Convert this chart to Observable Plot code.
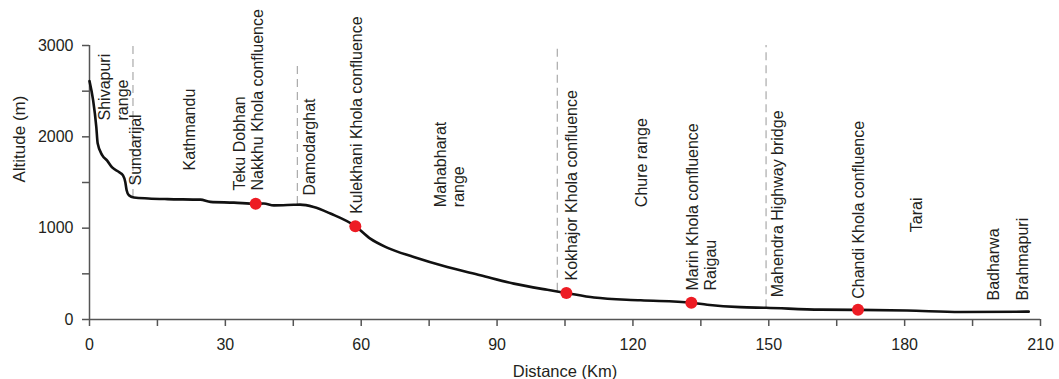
<!DOCTYPE html>
<html>
<head>
<meta charset="utf-8">
<script src="https://cdn.jsdelivr.net/npm/d3@7"></script>
<script src="https://cdn.jsdelivr.net/npm/@observablehq/plot@0.6"></script>
<style>
  html, body { margin: 0; padding: 0; background: #fff; }
  #chart svg { display: block; }
</style>
</head>
<body>
<div id="chart"></div>
<script>
// River longitudinal profile (distance in km, altitude in m)
const profileKm  = [0, 0.8, 1.5, 1.8, 2.8, 3.9, 5.0, 6.5, 7.4, 7.9, 8.2, 8.7, 9.8, 13, 17.2, 24.5, 26.7, 31.9, 36.7, 38.5, 40.7, 45.1, 46.5, 49.5, 53.2, 58.7, 62.0, 65.7, 71.6, 79.0, 86.3, 93.7, 101.1, 105.3, 111.4, 121.7, 132.9, 136.4, 143.7, 149.4, 161.4, 169.7, 180.5, 192.3, 207.4];
const profileAlt = [2610, 2400, 2110, 1930, 1800, 1740, 1665, 1615, 1578, 1505, 1415, 1360, 1335, 1325, 1318, 1312, 1288, 1280, 1268, 1270, 1250, 1256, 1258, 1232, 1160, 1022, 885, 787, 685, 575, 485, 393, 325, 290, 240, 210, 183, 162, 135, 128, 108, 105, 99, 82, 86];

// Confluence points (red dots)
const confluenceKm  = [36.7, 58.7, 105.3, 132.9, 169.7];
const confluenceAlt = [1268, 1022, 290, 183, 107];

// Dashed region boundaries
const boundaryKm   = [9.6, 45.9, 103.3, 149.4];
const boundaryBase = [1335, 1259, 310, 128];
const boundaryTop  = [3000, 2770, 2965, 3000];

// Place / reach labels
const labelText = ["Shivapuri\nrange", "Sundarijal", "Kathmandu", "Teku Dobhan\nNakkhu Khola confluence", "Damodarghat", "Kulekhani Khola confluence", "Mahabharat\nrange", "Kokhajor Khola confluence", "Chure range", "Marin Khola confluence\nRaigau", "Mahendra Highway bridge", "Chandi Khola confluence", "Tarai", "Badharwa", "Brahmapuri"];
const labelKm   = [5.3, 10.2, 22.1, 35.1, 48.6, 58.9, 79.5, 106.4, 121.8, 135.1, 152.0, 169.7, 182.6, 199.5, 206.1];
const labelAlt  = [2179, 1467, 1631, 1412, 1358, 1157, 1230, 427, 1230, 318, 244, 227, 956, 208, 208];

// Axis ticks
const xTicks = [0, 15, 30, 45, 60, 75, 90, 105, 120, 135, 150, 165, 180, 195, 210];
const yTicks = [0, 500, 1000, 1500, 2000, 2500, 3000];

const profile = profileKm.map((k, i) => ({km: k, alt: profileAlt[i]}));
const dots = confluenceKm.map((k, i) => ({km: k, alt: confluenceAlt[i]}));
const bounds = boundaryKm.map((k, i) => ({km: k, y1: boundaryBase[i], y2: boundaryTop[i]}));
const labels = labelText.map((t, i) => ({text: t, km: labelKm[i], alt: labelAlt[i]}));

const textColor = "#231f20";
const axisColor = "#555";

const chart = Plot.plot({
  width: 1059,
  height: 379,
  marginLeft: 89,
  marginRight: 19,
  marginTop: 45,
  marginBottom: 60,
  style: {fontFamily: "'Liberation Sans', Arial, sans-serif", fontSize: "16px", color: textColor, background: "#fff"},
  x: {domain: [0, 210]},
  y: {domain: [0, 3000]},
  marks: [
    Plot.ruleX(bounds, {x: "km", y1: "y1", y2: "y2", stroke: "#aaa", strokeWidth: 1.2, strokeDasharray: "8,5"}),
    Plot.ruleX([0], {y1: 0, y2: 3000, stroke: axisColor, strokeWidth: 1.5}),
    Plot.ruleY([0], {x1: 0, x2: 210, stroke: axisColor, strokeWidth: 1.5}),
    Plot.line(profile, {x: "km", y: "alt", stroke: "#111", strokeWidth: 2.6, curve: "monotone-x"}),
    Plot.dot(dots, {x: "km", y: "alt", r: 6, fill: "#ed1c24", stroke: "none"}),
    Plot.text(labels, {x: "km", y: "alt", text: "text", rotate: -90, textAnchor: "start", lineAnchor: "middle", lineHeight: 1.1, fontSize: 16, fill: textColor}),
    Plot.axisX({ticks: xTicks, tickFormat: d => d % 30 === 0 ? String(d) : "", tickSize: 7, tickPadding: 12, label: null, stroke: axisColor, fill: textColor, strokeWidth: 1.5, fontSize: 16}),
    Plot.axisY({ticks: yTicks, tickFormat: d => d % 1000 === 0 ? String(d) : "", tickSize: 7, tickPadding: 9, label: null, stroke: axisColor, fill: textColor, strokeWidth: 1.5, fontSize: 16}),
    Plot.text(["Distance (Km)"], {text: d => d, frameAnchor: "bottom", dy: 52, lineAnchor: "middle", fontSize: 16.5, fill: textColor}),
    Plot.text(["Altitude (m)"], {text: d => d, frameAnchor: "left", dx: -70, rotate: -90, lineAnchor: "middle", fontSize: 17, fill: textColor})
  ]
});

document.getElementById("chart").appendChild(chart);
</script>
</body>
</html>
